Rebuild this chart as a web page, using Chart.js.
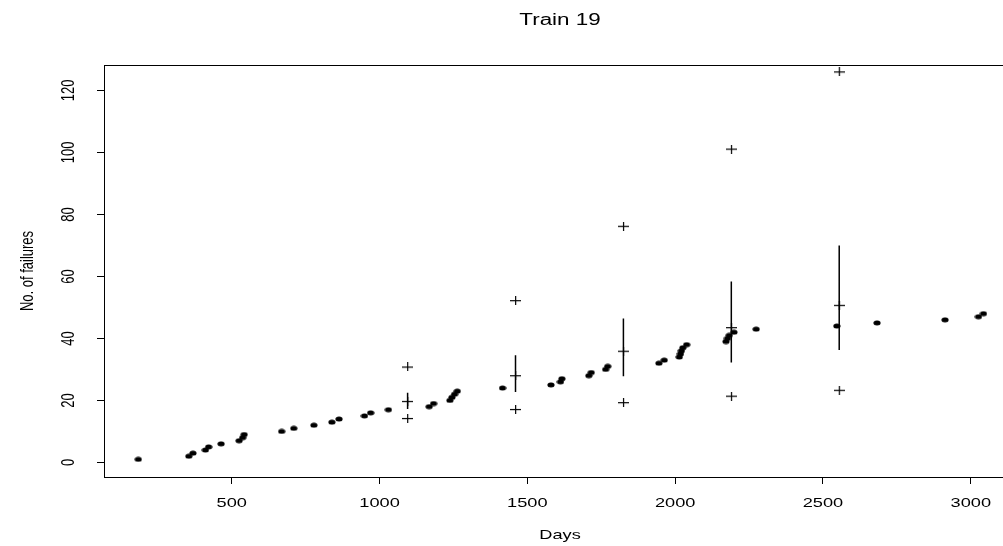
<!DOCTYPE html>
<html>
<head>
<meta charset="utf-8">
<script src="https://cdn.jsdelivr.net/npm/chart.js@4.4.1/dist/chart.umd.min.js"></script>
<style>
html,body{margin:0;padding:0;background:#fff;overflow:hidden;}
#wrap{width:1003px;height:546px;overflow:hidden;position:relative;}
canvas{display:block;}
</style>
</head>
<body>
<div id="wrap"><canvas id="c" width="1030" height="546" style="width:1030px;height:546px"></canvas></div>
<script>
// ---- data ----
const chartTitle = "Train 19";
const xAxisTitle = "Days";
const yAxisTitle = "No. of failures";
const xTicks = [500, 1000, 1500, 2000, 2500, 3000];
const yTicks = [0, 20, 40, 60, 80, 100, 120];

const failureDays = [184, 355, 369, 411, 422, 464, 525, 537, 542, 669,
  710, 778, 839, 863, 949, 970, 1030, 1168, 1183, 1238,
  1245, 1254, 1263, 1416, 1580, 1612, 1617, 1708, 1716, 1765,
  1772, 1945, 1963, 2014, 2018, 2021, 2026, 2039, 2172, 2177,
  2183, 2199, 2274, 2547, 2683, 2913, 3026, 3043];
const failureCounts = [1, 2, 3, 4, 5, 6, 7, 8, 9, 10,
  11, 12, 13, 14, 15, 16, 17, 18, 19, 20,
  21, 22, 23, 24, 25, 26, 27, 28, 29, 30,
  31, 32, 33, 34, 35, 36, 37, 38, 39, 40,
  41, 42, 43, 44, 45, 46, 47, 48];

const predDays    = [1095, 1460, 1825, 2190, 2555];
const predCentre  = [19.7, 28.0, 35.9, 43.5, 50.7];
const predInnerLo = [17.2, 22.7, 27.8, 32.2, 36.3];
const predInnerHi = [22.5, 34.6, 46.4, 58.4, 70.0];
const predOuterLo = [14.2, 17.1, 19.3, 21.4, 23.3];
const predOuterHi = [30.8, 52.2, 76.2, 101.1, 126.0];

// ---- marker images ----
function ellipseMarker(){
  const c = document.createElement('canvas'); c.width = 8; c.height = 6;
  const g = c.getContext('2d'); g.fillStyle = '#000';
  g.beginPath(); g.ellipse(4, 3, 3.6, 2.5, 0, 0, Math.PI*2); g.fill();
  return c;
}
function plusMarker(){
  const c = document.createElement('canvas'); c.width = 11; c.height = 9;
  const g = c.getContext('2d'); g.fillStyle = '#000';
  g.fillRect(0, 4, 11, 1.2); g.fillRect(5, 0, 1.2, 9);
  return c;
}
const dotImg = ellipseMarker();
const plusImg = plusMarker();

const SX = 1.4; // horizontal stretch of the reference text
const FONT = '"Liberation Sans", Arial, sans-serif';

function txt(ctx, s, x, y, size, rot){
  ctx.save();
  ctx.translate(x, y);
  ctx.scale(SX, 1);
  if (rot) ctx.rotate(-Math.PI/2);
  ctx.font = size + 'px ' + FONT;
  ctx.fillStyle = '#000';
  ctx.textAlign = 'center';
  ctx.textBaseline = 'middle';
  ctx.fillText(s, 0, 0);
  ctx.restore();
}

const decor = {
  id: 'decor',
  afterDraw(chart){
    const ctx = chart.ctx, a = chart.chartArea;
    const xs = chart.scales.x, ys = chart.scales.y;
    ctx.save();
    ctx.strokeStyle = '#000'; ctx.lineWidth = 1;
    ctx.strokeRect(Math.round(a.left)+0.5, Math.round(a.top)+0.5,
                   Math.round(a.right-a.left), Math.round(a.bottom-a.top));
    ctx.restore();
    xTicks.forEach(v => txt(ctx, String(v), xs.getPixelForValue(v), 503, 13, false));
    yTicks.forEach(v => txt(ctx, String(v), 69, ys.getPixelForValue(v), 13, true));
    const cx = (a.left + a.right)/2;
    txt(ctx, chartTitle, cx, 21, 16, false);
    txt(ctx, xAxisTitle, cx, 535, 13, false);
    txt(ctx, yAxisTitle, 28, (a.top + a.bottom)/2, 13, true);
  }
};

// vertical interval segments, separated by gaps
const segData = [];
predDays.forEach((d, i) => {
  segData.push({x: d, y: predInnerLo[i]});
  segData.push({x: d, y: predInnerHi[i]});
  segData.push({x: d, y: null});
});

const crossData = [];
predDays.forEach((d, i) => {
  crossData.push({x: d, y: predCentre[i]});
  crossData.push({x: d, y: predOuterLo[i]});
  crossData.push({x: d, y: predOuterHi[i]});
});

new Chart(document.getElementById('c'), {
  type: 'scatter',
  data: {
    datasets: [
      {
        label: 'failures',
        data: failureDays.map((d, i) => ({x: d, y: failureCounts[i]})),
        pointStyle: dotImg, pointRadius: 4,
        showLine: false
      },
      {
        label: 'interval',
        type: 'line',
        data: segData,
        borderColor: '#000', borderWidth: 1.5,
        pointRadius: 0, spanGaps: false, fill: false, tension: 0
      },
      {
        label: 'predicted',
        data: crossData,
        pointStyle: plusImg, pointRadius: 5,
        showLine: false
      }
    ]
  },
  options: {
    responsive: false,
    animation: false,
    devicePixelRatio: 1,
    layout: {padding: {left: 0, right: 14, top: 65, bottom: 0}},
    plugins: {legend: {display: false}, tooltip: {enabled: false}, title: {display: false}},
    scales: {
      x: {
        type: 'linear', min: 68, max: 3153,
        afterBuildTicks: s => { s.ticks = xTicks.map(v => ({value: v})); },
        afterFit: s => { s.height = 69; },
        ticks: {display: false},
        grid: {display: true, drawOnChartArea: false, drawTicks: true, tickLength: 7, color: '#000', lineWidth: 1},
        border: {display: false}
      },
      y: {
        type: 'linear', min: -4.7, max: 128.2,
        afterBuildTicks: s => { s.ticks = yTicks.map(v => ({value: v})); },
        afterFit: s => { s.width = 104; },
        ticks: {display: false},
        grid: {display: true, drawOnChartArea: false, drawTicks: true, tickLength: 7, color: '#000', lineWidth: 1},
        border: {display: false}
      }
    }
  },
  plugins: [decor]
});
</script>
</body>
</html>
